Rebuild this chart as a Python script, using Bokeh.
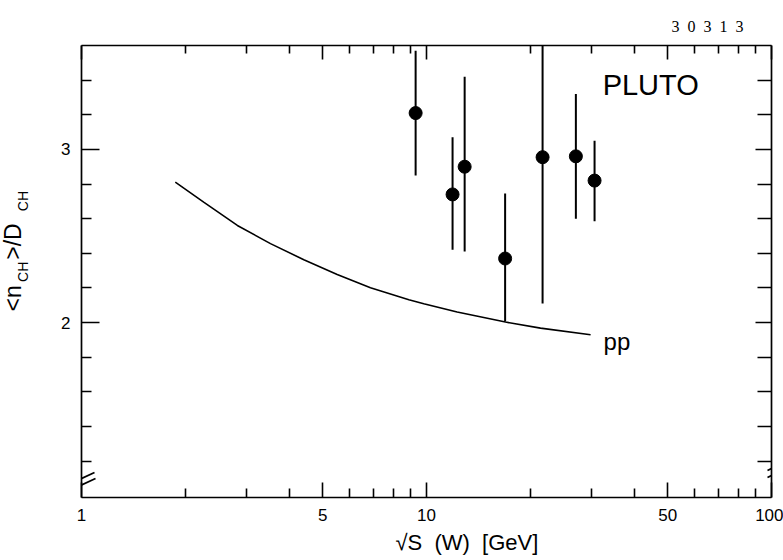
import math
from bokeh.plotting import figure
from bokeh.models import (Range1d, FixedTicker, LogAxis, LinearAxis, Label, Arrow,
                          PrintfTickFormatter, Title)
from bokeh.embed import file_html
from bokeh.resources import INLINE

# ---- data ----
energy = [9.3, 11.9, 12.9, 16.9, 21.7, 27.1, 30.7]          # sqrt(s) (W) [GeV]
ratio = [3.21, 2.74, 2.90, 2.37, 2.955, 2.96, 2.82]          # <n_CH>/D_CH
ratio_hi = [3.57, 3.07, 3.42, 2.745, 3.80, 3.32, 3.05]
ratio_lo = [2.85, 2.42, 2.41, 2.006, 2.11, 2.60, 2.585]

pp_energy = [1.87, 2.26, 2.83, 3.53, 4.41, 5.51, 6.88, 8.89, 9.82, 12.27,
             16.94, 21.4, 29.9]
pp_ratio = [2.811, 2.696, 2.561, 2.456, 2.363, 2.278, 2.201, 2.132, 2.109,
            2.061, 2.003, 1.968, 1.930]

x_ticks = [1, 5, 10, 50, 100]
x_minor = [2, 3, 4, 6, 7, 8, 9, 20, 30, 40, 60, 70, 80, 90]
y_ticks = [2, 3]
y_minor = [1.2, 1.4, 1.6, 1.8, 2.2, 2.4, 2.6, 2.8, 3.2, 3.4]

FONT = "Liberation Sans"
NB = "\u00a0"

p = figure(width=783, height=560, x_axis_type="log",
           x_range=Range1d(1, 100), y_range=Range1d(0.99, 3.6),
           output_backend="svg", toolbar_location=None,
           min_border_left=81, min_border_right=12,
           min_border_top=45, min_border_bottom=63)
p.outline_line_color = None
p.grid.visible = False
p.background_fill_color = "white"
p.border_fill_color = "white"


def style_axis(ax, major_len, minor_len, show_labels, ticks):
    ax.axis_line_width = 1.7
    ax.axis_line_color = "black"
    ax.major_tick_in = major_len
    ax.major_tick_out = 0
    ax.minor_tick_in = minor_len
    ax.minor_tick_out = 0
    ax.major_tick_line_width = 1.6
    ax.minor_tick_line_width = 1.6
    ax.major_tick_line_color = "black"
    ax.minor_tick_line_color = "black"
    if show_labels:
        ax.major_label_text_font = FONT
        ax.major_label_text_font_size = "17px"
        ax.major_label_text_color = "black"
    else:
        ax.major_label_overrides = {t: "" for t in ticks}
        ax.major_label_standoff = 0


xb = p.xaxis[0]
xb.ticker = FixedTicker(ticks=x_ticks, minor_ticks=x_minor)
xb.formatter = PrintfTickFormatter(format="%d")
style_axis(xb, 15, 9, True, x_ticks)
xb.major_label_standoff = 11

yl = p.yaxis[0]
yl.ticker = FixedTicker(ticks=y_ticks, minor_ticks=y_minor)
yl.formatter = PrintfTickFormatter(format="%d")
style_axis(yl, 18, 10, True, y_ticks)
yl.major_label_standoff = 11
yl.major_label_orientation = "horizontal"
# subscripts of the y-axis title (nearer the axis)
yl.axis_label = NB * 18 + "CH" + NB * 13 + "CH"
yl.axis_label_text_font = FONT
yl.axis_label_text_font_size = "14px"
yl.axis_label_text_font_style = "normal"
yl.axis_label_text_color = "black"
yl.axis_label_standoff = 27

xt = LogAxis(ticker=FixedTicker(ticks=x_ticks, minor_ticks=x_minor))
style_axis(xt, 14, 8, False, x_ticks)
p.add_layout(xt, "above")

yr = LinearAxis(ticker=FixedTicker(ticks=y_ticks, minor_ticks=y_minor))
style_axis(yr, 16, 14, False, y_ticks)
p.add_layout(yr, "right")

# pp curve
p.line(pp_energy, pp_ratio, line_color="black", line_width=1.6)

# error bars and points
p.segment(x0=energy, y0=ratio_lo, x1=energy, y1=ratio_hi,
          line_color="black", line_width=2)
p.scatter(energy, ratio, size=13, marker="circle",
          fill_color="black", line_color="black")

# texts inside the frame
p.add_layout(Label(x=32.4, y=3.37, text="PLUTO", text_font=FONT,
                   text_font_size="29px", text_baseline="middle",
                   text_color="black"))
p.add_layout(Label(x=32.6, y=1.891, text="pp", text_font=FONT,
                   text_font_size="24px", text_baseline="alphabetic",
                   text_color="black"))

# figure number at the top right
p.title.text = (NB * 2).join(["3", "0", "3", "1", "3"])
p.title.align = "right"
p.title.offset = 28
p.title.text_font = "Liberation Serif"
p.title.text_font_size = "16px"
p.title.text_font_style = "normal"
p.title.text_color = "black"
p.title.standoff = 22

# x-axis title
p.add_layout(Title(text="√S" + NB * 2 + "(W)" + NB * 2 + "[GeV]", align="left",
                   offset=314, text_font=FONT, text_font_size="22px",
                   text_font_style="normal", text_color="black",
                   standoff=8), "below")

# y-axis title main text
main_txt = "<n" + NB * 4 + ">/D"
p.add_layout(Title(text=main_txt, align="left", offset=186, text_font=FONT,
                   text_font_size="23px", text_font_style="normal",
                   text_color="black", standoff=-26), "left")

# axis break marks
for xs, ys, xe, ye in [(70, 483, 94, 472), (71, 489, 95, 478),
                       (767, 470, 790, 459), (767, 477, 790, 466)]:
    p.add_layout(Arrow(end=None, x_start=xs, y_start=ys, x_end=xe, y_end=ye,
                       start_units="canvas", end_units="canvas",
                       line_color="black", line_width=1.8))

open("out.html", "w").write(file_html(p, INLINE))
